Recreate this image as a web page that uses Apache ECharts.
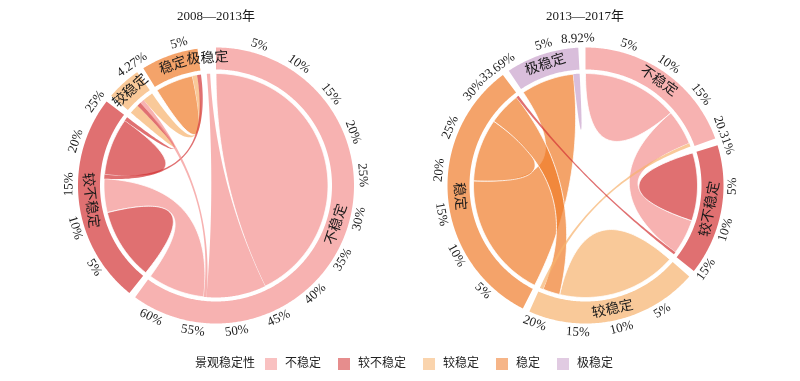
<!DOCTYPE html>
<html><head><meta charset="utf-8">
<script src="https://cdn.jsdelivr.net/npm/echarts@6/dist/echarts.min.js"></script>
<style>html,body{margin:0;padding:0;background:#fff}#c{width:800px;height:381px}</style>
</head><body><div id="c"></div>
<script>
// ---------------- data ----------------
const groups = ['不稳定', '较不稳定', '较稳定', '稳定', '极稳定'];
const periodTitles = ['2008—2013年', '2013—2017年'];
const legendTitle = '景观稳定性';

// share of each class on the circle (%)
const leftSizes = [62.8, 25.8, 4.27, 7.0, 0.5];
const rightSizes = [20.31, 16.0, 21.08, 33.69, 8.92];
// whether the outer ring of a class is drawn
const leftRing = [1, 1, 1, 1, 0];
const rightRing = [1, 1, 1, 1, 1];
// tick labels (% from the start of each class)
const leftTicks = [[5, 10, 15, 20, 25, 30, 35, 40, 45, 50, 55, 60], [5, 10, 15, 20, 25], [4.27], [5], []];
const rightTicks = [[5, 10, 15, 20.31], [5, 10, 15], [5, 10, 15, 20], [5, 10, 15, 20, 25, 30, 33.69], [5, 8.92]];

// flows: [from class, share at from end, to class, share at to end, colour class]
const leftFlows = [
  [0, 22.4, 0, 22.4, 0],
  [0, 9.0, 4, 0.5, 0],
  [0, 0.4, 2, 0.63, 0],
  [0, 8.6, 1, 5.1, 0],
  [1, 5.4, 1, 5.4, 1],
  [1, 0.6, 3, 0.6, 1],
  [1, 4.35, 1, 4.35, 1],
  [1, 0.6, 2, 0.6, 1],
  [2, 0.72, 2, 0.72, 2],
  [2, 1.6, 3, 0.7, 2],
  [3, 2.85, 3, 2.85, 3]
];
// order of flow ends inside each class (clockwise)
const leftOrder = [[0, 0, 1, 2, 3], [4, 4, 3, 5, 6, 6, 7], [8, 8, 7, 2, 9], [10, 10, 9, 5], [1]];

const rightFlows = [
  [0, 7.19, 0, 7.19, 0],
  [0, 5.3, 1, 5.3, 0],
  [2, 0.5, 0, 0.5, 2],
  [1, 5.11, 1, 5.11, 1],
  [1, 0.38, 3, 0.38, 1],
  [2, 9.0, 2, 9.0, 2],
  [3, 4.9, 2, 2.58, 3],
  [3, 18.96, 4, 7.97, 3],
  [3, 4.725, 3, 4.725, 3],
  [4, 0.475, 4, 0.475, 4]
];
const rightOrder = [[0, 0, 1, 2], [3, 3, 1, 4], [5, 5, 6, 2], [7, 8, 8, 6, 4], [7, 9, 9]];

// ---------------- style ----------------
const bandColors = ['#F7B2B1', '#E07071', '#F9C999', '#F4A36A', '#D9BEDB'];
const ribbonColors = ['rgba(244,145,144,0.7)', 'rgba(211,51,52,0.7)', 'rgba(246,178,109,0.7)', 'rgba(239,124,42,0.7)', 'rgba(201,162,204,0.7)'];
const SERIF = '"Liberation Serif","Noto Sans CJK SC",serif';
const GAP_DEG = 3;
const R_OUT = 138, R_IN = 116, R_RIB = 112, R_TICK = 147, R_NAME = 127;

function layout(sizes, flows, order) {
  const sum = sizes.reduce((a, b) => a + b, 0);
  const n = sizes.length;
  const gap = GAP_DEG * sum / (360 - n * GAP_DEG);
  const total = sum + n * gap;
  const starts = [];
  let p = 0;
  sizes.forEach(s => { starts.push(p); p += s + gap; });
  const ends = flows.map(() => ({}));
  order.forEach((list, g) => {
    let q = starts[g];
    const seen = {};
    list.forEach(fi => {
      const f = flows[fi];
      const useFrom = (f[0] === g && f[2] === g) ? !seen[fi] : f[0] === g;
      seen[fi] = true;
      const w = useFrom ? f[1] : f[3];
      if (useFrom) ends[fi].from = [q, q + w]; else ends[fi].to = [q, q + w];
      q += w;
    });
  });
  return { starts, total, ends };
}

function arcPts(api, pts, r, a, b) {
  const steps = Math.max(2, Math.ceil(Math.abs(b - a) / 0.15));
  for (let k = 0; k <= steps; k++) pts.push(api.coord([r, a + (b - a) * k / steps]));
}
function bezPts(api, pts, r, a, b) {
  if (Math.abs(a - b) < 1e-6) return; // adjacent ends: no inner edge
  const P0 = api.coord([r, a]), P1 = api.coord([r, b]), C = api.coord([0, 0]);
  const N = 60;
  for (let k = 1; k < N; k++) {
    const t = k / N, u = 1 - t;
    pts.push([u * u * P0[0] + 2 * u * t * C[0] + t * t * P1[0], u * u * P0[1] + 2 * u * t * C[1] + t * t * P1[1]]);
  }
}

function buildAll() {
  const out = [];
  const specs = [
    [0, leftSizes, leftRing, leftTicks, leftFlows, leftOrder],
    [1, rightSizes, rightRing, rightTicks, rightFlows, rightOrder]
  ];
  specs.forEach(sp => {
    const [idx, sizes, ring, ticks, flows, order] = sp;
    const L = layout(sizes, flows, order);
    const degOf = v => (v / L.total * 360) % 360;
    const bandIdx = sizes.map((s, i) => i).filter(i => ring[i]);
    const drawOrder = flows.map((f, i) => i).sort((a, b) => (flows[b][1] + flows[b][3]) - (flows[a][1] + flows[a][3]));
    const labels = [];
    ticks.forEach((list, g) => list.forEach(v => labels.push({ pos: L.starts[g] + v, text: v + '%', r: R_TICK, size: 13 })));
    groups.forEach((name, g) => labels.push({ pos: L.starts[g] + sizes[g] / 2, text: name, r: R_NAME, size: 14 }));
    out.push({ idx, L });
    out.push({
      type: 'custom', coordinateSystem: 'polar', polarIndex: idx, silent: true, z: 1,
      data: bandIdx.map(() => [0, 0]),
      renderItem(params, api) {
        const i = bandIdx[params.dataIndex];
        const a = L.starts[i], b = a + sizes[i];
        const pts = [];
        arcPts(api, pts, R_OUT, a, b);
        arcPts(api, pts, R_IN, b, a);
        return { type: 'polygon', shape: { points: pts }, style: { fill: bandColors[i] } };
      }
    });
    out.push({
      type: 'custom', coordinateSystem: 'polar', polarIndex: idx, silent: true, z: 2,
      data: drawOrder.map(() => [0, 0]),
      renderItem(params, api) {
        const fi = drawOrder[params.dataIndex];
        const f = flows[fi], e = L.ends[fi];
        const pts = [];
        arcPts(api, pts, R_RIB, e.from[0], e.from[1]);
        bezPts(api, pts, R_RIB, e.from[1], e.to[0]);
        arcPts(api, pts, R_RIB, e.to[0], e.to[1]);
        bezPts(api, pts, R_RIB, e.to[1], e.from[0]);
        const thin = Math.min(f[1], f[3]) < 1;
        return {
          type: 'polygon', shape: { points: pts },
          style: { fill: ribbonColors[f[4]], stroke: thin ? null : '#ffffff', lineWidth: thin ? 0 : 0.8 }
        };
      }
    });
    out.push({
      type: 'custom', coordinateSystem: 'polar', polarIndex: idx, silent: true, z: 3,
      data: labels.map(() => [0, 0]),
      renderItem(params, api) {
        const it = labels[params.dataIndex];
        const p = api.coord([it.r, it.pos]);
        const th = degOf(it.pos);
        const rot = (th > 90 && th < 270) ? th - 180 : th;
        return {
          type: 'text', x: p[0], y: p[1], rotation: -rot * Math.PI / 180,
          style: { text: it.text, fill: '#1a1a1a', fontSize: it.size, fontFamily: SERIF, align: 'center', verticalAlign: 'middle' }
        };
      }
    });
  });
  return out;
}

const built = buildAll();
const layouts = built.filter(o => o.L);
const seriesList = built.filter(o => !o.L);
groups.forEach((g, i) => seriesList.push({
  type: 'scatter', name: g, coordinateSystem: 'polar', polarIndex: 0, data: [], itemStyle: { color: bandColors[i] }
}));

const chart = echarts.init(document.getElementById('c'), null, { renderer: 'canvas' });
chart.setOption({
  animation: false,
  backgroundColor: '#ffffff',
  title: [
    { text: periodTitles[0], left: 216, top: 10, textAlign: 'center', padding: 0, textStyle: { fontSize: 13, fontWeight: 'normal', fontFamily: SERIF, color: '#1a1a1a' } },
    { text: periodTitles[1], left: 585, top: 10, textAlign: 'center', padding: 0, textStyle: { fontSize: 13, fontWeight: 'normal', fontFamily: SERIF, color: '#1a1a1a' } },
    { text: legendTitle, left: 195, top: 358, padding: 0, textStyle: { fontSize: 12, fontWeight: 'normal', fontFamily: SERIF, color: '#222' } }
  ],
  legend: {
    data: groups, left: 265, top: 358, itemWidth: 12, itemHeight: 12, itemGap: 17, icon: 'rect', selectedMode: false, padding: 0,
    textStyle: { fontSize: 12, color: '#222', fontFamily: SERIF, padding: [0, 0, 0, 3] }
  },
  polar: [
    { center: [216, 185.5], radius: R_OUT },
    { center: [585.5, 185.5], radius: R_OUT }
  ],
  angleAxis: layouts.map(o => ({ polarIndex: o.idx, type: 'value', min: 0, max: o.L.total, startAngle: 90, clockwise: true, show: false })),
  radiusAxis: layouts.map(o => ({ polarIndex: o.idx, type: 'value', min: 0, max: R_OUT, show: false })),
  series: seriesList
});
</script>
</body></html>
